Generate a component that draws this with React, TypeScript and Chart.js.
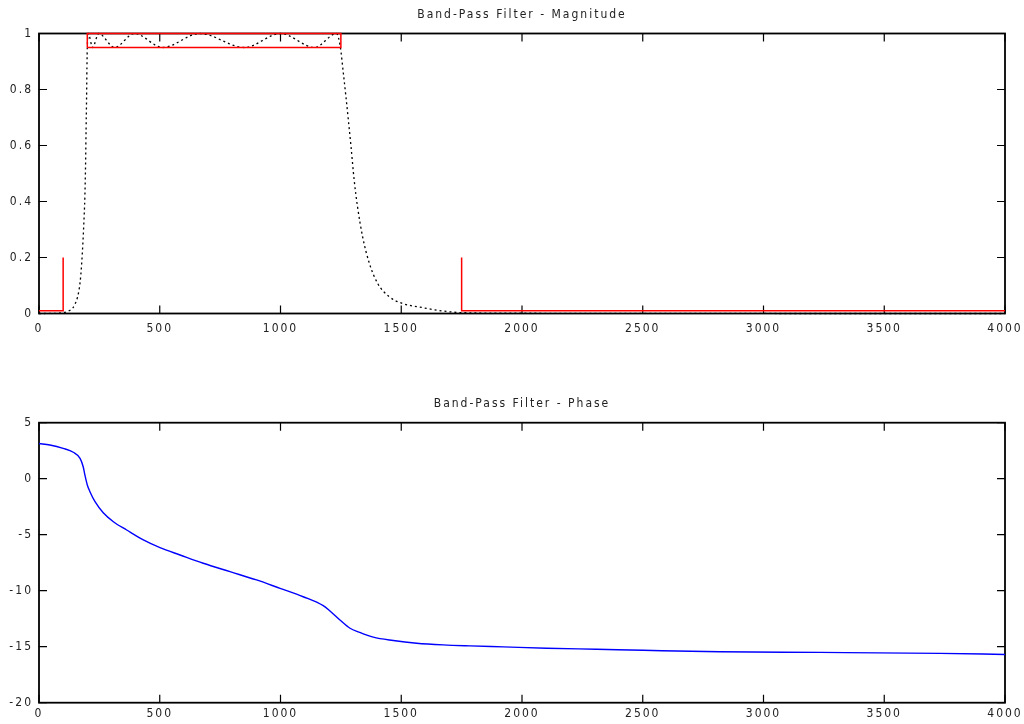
import React, { useEffect, useRef } from 'react';
import { Chart, registerables } from 'chart.js';

Chart.register(...registerables);

// ---------- data ----------
const magFreq = [0, 60, 100, 120, 140, 150, 160, 170, 176, 181, 185, 190, 193, 195, 197, 198.5, 200, 204, 222, 247, 313, 395, 512, 665, 851, 1000, 1141, 1232, 1248, 1260, 1271, 1281, 1292, 1305, 1319, 1340, 1368, 1402, 1450, 1505, 1588, 1671, 1753, 2000, 2500, 3000, 4000];
const magValues = [0, 0.0005, 0.003, 0.008, 0.02, 0.035, 0.06, 0.11, 0.17, 0.24, 0.31, 0.42, 0.54, 0.66, 0.77, 0.88, 0.95, 1.0, 0.95, 1.0, 0.95, 1.0, 0.95, 1.0, 0.95, 1.0, 0.95, 1.0, 0.95, 0.86, 0.774, 0.691, 0.596, 0.477, 0.381, 0.274, 0.179, 0.108, 0.06, 0.036, 0.021, 0.009, 0.003, 0.001, 0.0003, 0.0001, 0];

const stopLowFreq = [0, 100, 100];
const stopLowMag = [0.01, 0.01, 0.2];
const passFreq = [200, 1250, 1250, 200, 200];
const passMag = [0.95, 0.95, 1, 1, 0.95];
const stopHighFreq = [1750, 1750, 4000];
const stopHighMag = [0.2, 0.01, 0.01];

const phaseFreq = [0, 45, 100, 142, 170, 183, 190, 200, 211, 232, 266, 308, 363, 432, 501, 584, 680, 791, 901, 998, 1094, 1177, 1205, 1246, 1288, 1325, 1384, 1467, 1564, 1674, 1785, 1923, 2102, 2309, 2502, 2820, 3234, 3731, 4000];
const phaseValues = [3.14, 3.01, 2.71, 2.36, 1.82, 1.07, 0.33, -0.56, -1.16, -2.05, -3.04, -3.84, -4.58, -5.47, -6.16, -6.81, -7.55, -8.3, -9.04, -9.79, -10.54, -11.34, -11.81, -12.61, -13.35, -13.7, -14.15, -14.45, -14.69, -14.84, -14.93, -15.02, -15.14, -15.23, -15.32, -15.45, -15.51, -15.6, -15.69];

const magTitle = 'Band-Pass Filter - Magnitude';
const phaseTitle = 'Band-Pass Filter - Phase';

// ---------- styling ----------
const FONT_FAMILY = "'Liberation Sans Narrow', 'DejaVu Sans Condensed', 'Liberation Sans', sans-serif";
const TEXT_COLOR = '#222';

const pts = (xs: number[], ys: number[]) => xs.map((x, i) => ({ x, y: ys[i] }));

const spacingPlugin = {
  id: 'letterSpacing',
  beforeUpdate(chart: any) { chart.ctx.letterSpacing = '2px'; },
  beforeLayout(chart: any) { chart.ctx.letterSpacing = '2px'; },
  beforeDraw(chart: any) { chart.ctx.letterSpacing = '2px'; },
};

const framePlugin = {
  id: 'frame',
  beforeDatasetsDraw(chart: any) {
    const { ctx, chartArea: a, scales } = chart;
    ctx.save();
    ctx.strokeStyle = '#000';
    ctx.lineWidth = 1.2;
    ctx.beginPath();
    const tl = 8;
    for (const t of scales.x.ticks) {
      const px = scales.x.getPixelForValue(t.value);
      ctx.moveTo(px, a.bottom); ctx.lineTo(px, a.bottom - tl);
      ctx.moveTo(px, a.top); ctx.lineTo(px, a.top + tl);
    }
    for (const t of scales.y.ticks) {
      const py = scales.y.getPixelForValue(t.value);
      ctx.moveTo(a.left, py); ctx.lineTo(a.left + tl, py);
      ctx.moveTo(a.right, py); ctx.lineTo(a.right - tl, py);
    }
    ctx.stroke();
    ctx.lineWidth = 1.8;
    ctx.strokeRect(a.left, a.top, a.right - a.left, a.bottom - a.top);
    ctx.restore();
  },
};

function makeConfig(opts: {
  title: string; titlePadTop: number; titlePadBottom: number;
  xHeight: number; xPad: number; yMin: number; yMax: number; yStep: number;
  datasets: any[];
}) {
  const font = { family: FONT_FAMILY, size: 12, weight: 'normal' as const };
  return {
    type: 'line' as const,
    data: { datasets: opts.datasets },
    plugins: [spacingPlugin, framePlugin],
    options: {
      animation: false as const,
      responsive: false,
      devicePixelRatio: 1,
      layout: { padding: { left: 0, right: 19, top: 0, bottom: 0 } },
      plugins: {
        legend: { display: false },
        tooltip: { enabled: false },
        title: {
          display: true,
          text: opts.title,
          fullSize: false,
          color: TEXT_COLOR,
          font,
          padding: { top: opts.titlePadTop, bottom: opts.titlePadBottom },
        },
      },
      scales: {
        x: {
          type: 'linear' as const,
          min: 0,
          max: 4000,
          grid: { display: false, drawTicks: false },
          border: { display: false },
          ticks: {
            stepSize: 500,
            autoSkip: false,
            maxRotation: 0,
            padding: opts.xPad,
            color: TEXT_COLOR,
            font,
            callback: (v: any) => String(v),
          },
          afterFit: (s: any) => { s.height = opts.xHeight; s.paddingLeft = 0; s.paddingRight = 0; },
        },
        y: {
          type: 'linear' as const,
          min: opts.yMin,
          max: opts.yMax,
          grid: { display: false, drawTicks: false },
          border: { display: false },
          ticks: {
            stepSize: opts.yStep,
            padding: 6,
            color: TEXT_COLOR,
            font,
            callback: (v: any) => String(Math.round(v * 10) / 10),
          },
          afterFit: (s: any) => { s.width = 39; s.paddingTop = 0; s.paddingBottom = 0; },
        },
      },
    },
  };
}

const redLine = (data: any[]) => ({
  data,
  borderColor: '#ff0000',
  borderWidth: 1.5,
  pointRadius: 0,
  tension: 0,
  fill: false,
  clip: false,
});

export default function App() {
  const topRef = useRef<HTMLCanvasElement>(null);
  const botRef = useRef<HTMLCanvasElement>(null);

  useEffect(() => {
    const top = new Chart(topRef.current as HTMLCanvasElement, makeConfig({
      title: magTitle,
      titlePadTop: 8,
      titlePadBottom: 11.1,
      xHeight: 48.5,
      xPad: 8,
      yMin: 0,
      yMax: 1,
      yStep: 0.2,
      datasets: [
        redLine(pts(stopLowFreq, stopLowMag)),
        redLine(pts(passFreq, passMag)),
        redLine(pts(stopHighFreq, stopHighMag)),
        {
          data: pts(magFreq, magValues),
          borderColor: '#000',
          borderWidth: 1.3,
          borderDash: [2, 3],
          pointRadius: 0,
          cubicInterpolationMode: 'monotone',
          fill: false,
          clip: false,
        },
      ],
    }) as any);

    const bot = new Chart(botRef.current as HTMLCanvasElement, makeConfig({
      title: phaseTitle,
      titlePadTop: 34.8,
      titlePadBottom: 11.5,
      xHeight: 21.3,
      xPad: 3.6,
      yMin: -20,
      yMax: 5,
      yStep: 5,
      datasets: [
        {
          data: pts(phaseFreq, phaseValues),
          borderColor: '#0000ff',
          borderWidth: 1.4,
          pointRadius: 0,
          cubicInterpolationMode: 'monotone',
          fill: false,
        },
      ],
    }) as any);

    return () => { top.destroy(); bot.destroy(); };
  }, []);

  return (
    <div style={{ position: 'absolute', left: 0, top: 0, width: 1024, height: 724, background: '#fff' }}>
      <canvas ref={topRef} width={1024} height={362} style={{ position: 'absolute', left: 0, top: 0 }} />
      <canvas ref={botRef} width={1024} height={362} style={{ position: 'absolute', left: 0, top: 362 }} />
    </div>
  );
}
